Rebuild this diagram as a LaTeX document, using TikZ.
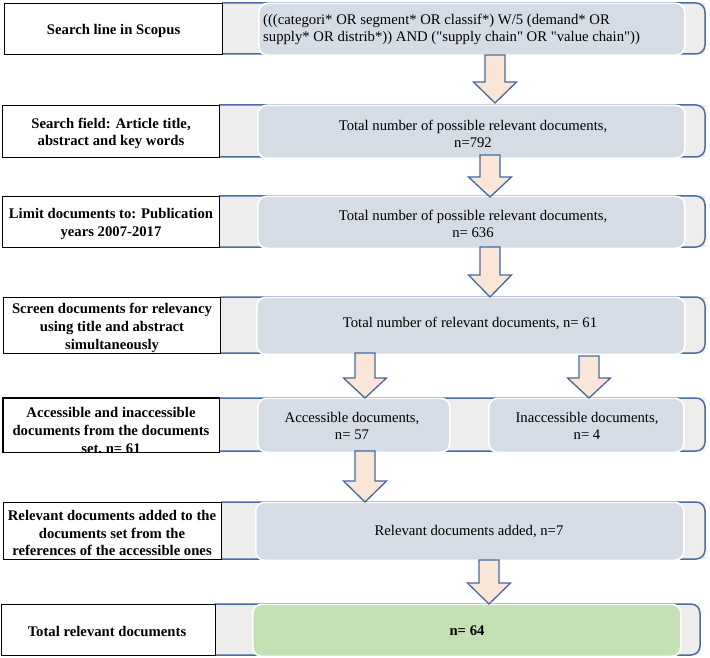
\documentclass[tikz,border=0pt]{standalone}
\usepackage{fontspec}
\setmainfont{Liberation Serif}[Ligatures=TeXOff]
\definecolor{bandgray}{RGB}{237,237,237}
\definecolor{blueline}{RGB}{74,108,165}
\definecolor{boxfill}{RGB}{214,220,229}
\definecolor{greenfill}{RGB}{197,224,180}
\definecolor{arrowfill}{RGB}{251,229,214}
\definecolor{arrowline}{RGB}{70,104,162}
\newcommand\bandrow[4]{% left, top, bottom, right
  \fill[bandgray] (#1,#2) rectangle (#4,#3);
  \draw[bline] (#1,#2) -- (#4,#2) -- (#4,#3) -- (#1,#3);}
\newcommand\darrow[4]{% cx, top, neck, tip
  \draw[barrow] ({#1-10},#2) -- ({#1+10},#2) -- ({#1+10},#3) -- ({#1+21.5},#3)
    -- (#1,#4) -- ({#1-21.5},#3) -- ({#1-10},#3) -- cycle;}
\begin{document}
\begin{tikzpicture}[x=1pt,y=-1pt,
  bline/.style={draw=blueline, line width=1.5pt, rounded corners=9pt},
  lbox/.style={draw=black, line width=1.2pt, fill=white, inner sep=0pt, anchor=north west},
  ibox/.style={fill=boxfill, draw=white, line width=1.6pt, rounded corners=9pt, inner sep=0pt, anchor=north west},
  gbox/.style={ibox, fill=greenfill},
  barrow/.style={fill=arrowfill, draw=arrowline, line width=1.3pt, line join=miter},
  ltxt/.style={font=\fontsize{14.7}{17.6}\selectfont\bfseries, align=center, inner sep=0pt},
  rtxt/.style={font=\fontsize{14.7}{17.6}\selectfont, align=center, inner sep=0pt}]
\useasboundingbox (0,0) rectangle (710,658);
\fill[white] (0,0) rectangle (710,658);

% bands
\bandrow{222}{3}{54}{705}
\bandrow{219}{105}{157}{705}
\bandrow{219}{196}{247}{705}
\bandrow{220}{297}{353}{705}
\bandrow{218}{398}{451}{705}
\bandrow{221}{502}{559}{705}
\bandrow{214}{604}{655}{700}

% left boxes
\node[lbox, minimum width=218pt, minimum height=51pt] (l1) at (4,3) {};
\node[lbox, minimum width=217pt, minimum height=52pt] (l2) at (2,105) {};
\node[lbox, minimum width=217pt, minimum height=51pt] (l3) at (2,196) {};
\node[lbox, minimum width=217pt, minimum height=56pt] (l4) at (3,297) {};
\node[lbox, draw=none, minimum width=215pt, minimum height=53pt] (l5) at (3,398) {};
\node[lbox, minimum width=218pt, minimum height=57pt] (l6) at (3,502) {};
\node[lbox, minimum width=214pt, minimum height=51pt] (l7) at (0.6,604) {};

% inner boxes
\node[ibox, minimum width=426pt, minimum height=52pt] (b1) at (258,2.5) {};
\node[ibox, minimum width=427pt, minimum height=53pt] (b2) at (257,104.5) {};
\node[ibox, minimum width=427pt, minimum height=52pt] (b3) at (257,195.5) {};
\node[ibox, minimum width=428pt, minimum height=57pt] (b4) at (256,296.5) {};
\node[ibox, minimum width=192pt, minimum height=54pt] (b5a) at (257,397.5) {};
\node[ibox, minimum width=195pt, minimum height=54pt] (b5b) at (488,397.5) {};
\node[ibox, minimum width=428pt, minimum height=58pt] (b6) at (255,501.5) {};
\node[gbox, minimum width=428pt, minimum height=52pt] (b7) at (252,603.5) {};

% left texts
\node[ltxt] (t1) at (l1.center) [yshift=-1.5pt] {Search line in Scopus};
\node[ltxt] (t2) at (111,133.5) {Search field: Article title,\\abstract and key words};
\node[ltxt] (t3) at (111,224) {Limit documents to: Publication\\years 2007-2017};
\node[ltxt] (t4) at (112,328) {Screen documents for relevancy\\using title and abstract\\simultaneously};
\begin{scope}
  \clip (l5.north west) rectangle (l5.south east);
  \node[ltxt] (t5) at (111,431.5) {Accessible and inaccessible\\documents from the documents\\set, n= 61};
\end{scope}
\draw[black, line width=1.2pt] (l5.north west) rectangle (l5.south east);
\node[ltxt] (t6) at (112,533) {Relevant documents added to the\\documents set from the\\references of the accessible ones};
\node[ltxt] (t7) at (107,631) {Total relevant documents};

% right texts
\node[rtxt, align=left, anchor=west] (r1) at (263,29.5) {(((categori* OR segment* OR classif*) W/5 (demand* OR\\supply* OR distrib*)) AND ("supply chain" OR "value chain"))};
\node[rtxt] (r2) at (473,134) {Total number of possible relevant documents,\\n=792};
\node[rtxt] (r3) at (473,224) {Total number of possible relevant documents,\\n= 636};
\node[rtxt] (r4) at (470,323) {Total number of relevant documents, n= 61};
\node[rtxt] (r5a) at (352,426) {Accessible documents,\\n= 57};
\node[rtxt] (r5b) at (587,426) {Inaccessible documents,\\n= 4};
\node[rtxt] (r6) at (469,531.5) {Relevant documents added, n=7};
\node[rtxt, font=\fontsize{14.7}{17.6}\selectfont\bfseries] (r7) at (467,631) {n= 64};

% block arrows
\darrow{495}{55}{82}{103}
\darrow{490}{155}{177}{197}
\darrow{490}{247}{275}{297}
\darrow{365}{353}{378}{398}
\darrow{589}{356}{378}{398}
\darrow{365}{451}{481}{502}
\darrow{489}{560}{583}{604}
\end{tikzpicture}
\end{document}
